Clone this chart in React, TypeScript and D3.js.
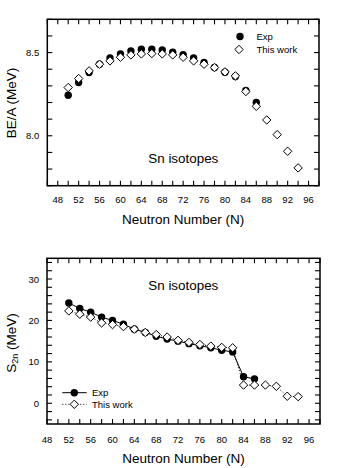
import React from "react";
import * as d3 from "d3";

// ---- Data ----
const nTheory = [50, 52, 54, 56, 58, 60, 62, 64, 66, 68, 70, 72, 74, 76, 78, 80, 82, 84, 86, 88, 90, 92, 94];
const nExp = [50, 52, 54, 56, 58, 60, 62, 64, 66, 68, 70, 72, 74, 76, 78, 80, 82, 84, 86];
const beExp = [8.244, 8.32, 8.38, 8.43, 8.468, 8.492, 8.51, 8.52, 8.52, 8.516, 8.502, 8.488, 8.468, 8.44, 8.41, 8.382, 8.356, 8.272, 8.2];
const beTheory = [8.29, 8.344, 8.39, 8.43, 8.45, 8.472, 8.486, 8.492, 8.494, 8.492, 8.486, 8.472, 8.45, 8.43, 8.41, 8.384, 8.36, 8.266, 8.177, 8.095, 8.007, 7.907, 7.807];

const nS2nExp = [52, 54, 56, 58, 60, 62, 64, 66, 68, 70, 72, 74, 76, 78, 80, 82, 84, 86];
const s2nExp = [24.2, 22.9, 22.0, 20.8, 20.0, 19.1, 17.9, 17.1, 16.2, 15.5, 15.0, 14.4, 13.9, 13.4, 12.8, 12.4, 6.4, 5.9];
const nS2nTheory = [52, 54, 56, 58, 60, 62, 64, 66, 68, 70, 72, 74, 76, 78, 80, 82, 84, 86, 88, 90, 92, 94];
const s2nTheory = [22.3, 21.5, 20.8, 19.4, 19.0, 18.5, 17.9, 17.1, 16.6, 16.0, 15.2, 14.7, 14.2, 13.8, 13.5, 13.4, 4.4, 4.4, 4.4, 4.1, 1.7, 1.6];

const xTickLabels = [48, 52, 56, 60, 64, 68, 72, 76, 80, 84, 88, 92, 96];
const beTickLabels = [8.0, 8.5];
const s2nTickLabels = [0, 10, 20, 30];

const FONT = "'Liberation Sans', Arial, Helvetica, sans-serif";
const TICK = 5;

type PanelProps = {
  x: d3.ScaleLinear<number, number>;
  y: d3.ScaleLinear<number, number>;
  xMinor: number[];
  yMinor: number[];
  yLabels: number[];
  yFmt: (v: number) => string;
  yTitle: React.ReactNode;
  yTitleY: number;
  labelY: number;
  titleY: number;
};

function Frame({ x, y, xMinor, yMinor, yLabels, yFmt, yTitle, yTitleY, labelY, titleY }: PanelProps) {
  const [x0, x1] = x.range();
  const [y0, y1] = y.range(); // y0 bottom, y1 top
  return (
    <g>
      {xMinor.map((v) => (
        <g key={"xt" + v}>
          <line x1={x(v)} x2={x(v)} y1={y0} y2={y0 - TICK} stroke="#000" strokeWidth={1.1} />
          <line x1={x(v)} x2={x(v)} y1={y1} y2={y1 + TICK} stroke="#000" strokeWidth={1.1} />
        </g>
      ))}
      {yMinor.map((v) => (
        <g key={"yt" + v}>
          <line x1={x0} x2={x0 + TICK} y1={y(v)} y2={y(v)} stroke="#000" strokeWidth={1.1} />
          <line x1={x1} x2={x1 - TICK} y1={y(v)} y2={y(v)} stroke="#000" strokeWidth={1.1} />
        </g>
      ))}
      <rect x={x0} y={y1} width={x1 - x0} height={y0 - y1} fill="none" stroke="#000" strokeWidth={1.5} />
      {xTickLabels.map((v) => (
        <text key={"xl" + v} x={x(v)} y={labelY} fontSize={9.5} fontFamily={FONT} textAnchor="middle" dominantBaseline="central">
          {v}
        </text>
      ))}
      {yLabels.map((v) => (
        <text key={"yl" + v} x={x0 - 8} y={y(v)} fontSize={9.5} fontFamily={FONT} textAnchor="end" dominantBaseline="central">
          {yFmt(v)}
        </text>
      ))}
      <text x={(x0 + x1) / 2} y={titleY} fontSize={13.5} fontFamily={FONT} textAnchor="middle" dominantBaseline="central">
        Neutron Number (N)
      </text>
      <text
        transform={`translate(11,${yTitleY}) rotate(-90)`}
        fontSize={13.5}
        fontFamily={FONT}
        textAnchor="middle"
        dominantBaseline="central"
      >
        {yTitle}
      </text>
    </g>
  );
}

const Circle = ({ cx, cy }: { cx: number; cy: number }) => <circle cx={cx} cy={cy} r={3.7} fill="#000" />;
const Diamond = ({ cx, cy }: { cx: number; cy: number }) => {
  const s = 4.2;
  return (
    <path
      d={`M${cx},${cy - s}L${cx + s},${cy}L${cx},${cy + s}L${cx - s},${cy}Z`}
      fill="#fff"
      stroke="#000"
      strokeWidth={1}
    />
  );
};

export default function App() {
  // Top panel
  const xTop = d3.scaleLinear().domain([46, 98]).range([47.3, 319]);
  const yTop = d3.scaleLinear().domain([7.7, 8.7]).range([185.7, 19.3]);
  // Bottom panel
  const xBot = d3.scaleLinear().domain([48, 98]).range([47, 320]);
  const yBot = d3.scaleLinear().domain([-5, 35]).range([424, 258.3]);

  const xMinorTop = d3.range(46, 98.01, 2);
  const xMinorBot = d3.range(48, 98.01, 2);
  const yMinorTop = d3.range(7.7, 8.71, 0.1).map((v) => +v.toFixed(1));
  const yMinorBot = d3.range(-4, 35, 2);

  const lineExp = d3
    .line<number>()
    .x((_, i) => xBot(nS2nExp[i]))
    .y((d) => yBot(d));
  const lineTh = d3
    .line<number>()
    .x((_, i) => xBot(nS2nTheory[i]))
    .y((d) => yBot(d));

  return (
    <svg width={340} height={468} style={{ position: "absolute", left: 0, top: 0, background: "#fff" }}>
      <rect x={0} y={0} width={340} height={468} fill="#fff" />
      {/* Top panel */}
      <Frame
        x={xTop}
        y={yTop}
        xMinor={xMinorTop}
        yMinor={yMinorTop}
        yLabels={beTickLabels}
        yFmt={(v) => v.toFixed(1)}
        yTitle="BE/A (MeV)"
        yTitleY={103}
        labelY={199.5}
        titleY={219}
      />
      {beExp.map((v, i) => (
        <Circle key={"be" + i} cx={xTop(nExp[i])} cy={yTop(v)} />
      ))}
      {beTheory.map((v, i) => (
        <Diamond key={"bt" + i} cx={xTop(nTheory[i])} cy={yTop(v)} />
      ))}
      <text x={183.3} y={158.3} fontSize={13.4} fontFamily={FONT} textAnchor="middle" dominantBaseline="central">
        Sn isotopes
      </text>
      <Circle cx={240} cy={36.5} />
      <text x={256.5} y={36.5} fontSize={9.5} fontFamily={FONT} dominantBaseline="central">
        Exp
      </text>
      <Diamond cx={239} cy={49.5} />
      <text x={256.5} y={49.5} fontSize={9.5} fontFamily={FONT} dominantBaseline="central">
        This work
      </text>

      {/* Bottom panel */}
      <Frame
        x={xBot}
        y={yBot}
        xMinor={xMinorBot}
        yMinor={yMinorBot}
        yLabels={s2nTickLabels}
        yFmt={(v) => String(v)}
        yTitle={
          <>
            S
            <tspan fontSize={9} dy={4}>
              2n
            </tspan>
            <tspan dy={-4}> (MeV)</tspan>
          </>
        }
        yTitleY={343}
        labelY={439}
        titleY={458.3}
      />
      <path d={lineTh(s2nTheory) || ""} fill="none" stroke="#000" strokeWidth={1} strokeDasharray="1,2" />
      <path d={lineExp(s2nExp) || ""} fill="none" stroke="#000" strokeWidth={1} />
      {s2nExp.map((v, i) => (
        <Circle key={"se" + i} cx={xBot(nS2nExp[i])} cy={yBot(v)} />
      ))}
      {s2nTheory.map((v, i) => (
        <Diamond key={"st" + i} cx={xBot(nS2nTheory[i])} cy={yBot(v)} />
      ))}
      <text x={183.3} y={285} fontSize={13.4} fontFamily={FONT} textAnchor="middle" dominantBaseline="central">
        Sn isotopes
      </text>
      <line x1={62.3} x2={86.7} y1={392.7} y2={392.7} stroke="#000" strokeWidth={1} />
      <Circle cx={74.3} cy={392.7} />
      <text x={92} y={392.7} fontSize={9.5} fontFamily={FONT} dominantBaseline="central">
        Exp
      </text>
      <line x1={62.3} x2={86.7} y1={404.3} y2={404.3} stroke="#000" strokeWidth={1} strokeDasharray="1,2" />
      <Diamond cx={74.3} cy={404.3} />
      <text x={92} y={404.3} fontSize={9.5} fontFamily={FONT} dominantBaseline="central">
        This work
      </text>
    </svg>
  );
}
